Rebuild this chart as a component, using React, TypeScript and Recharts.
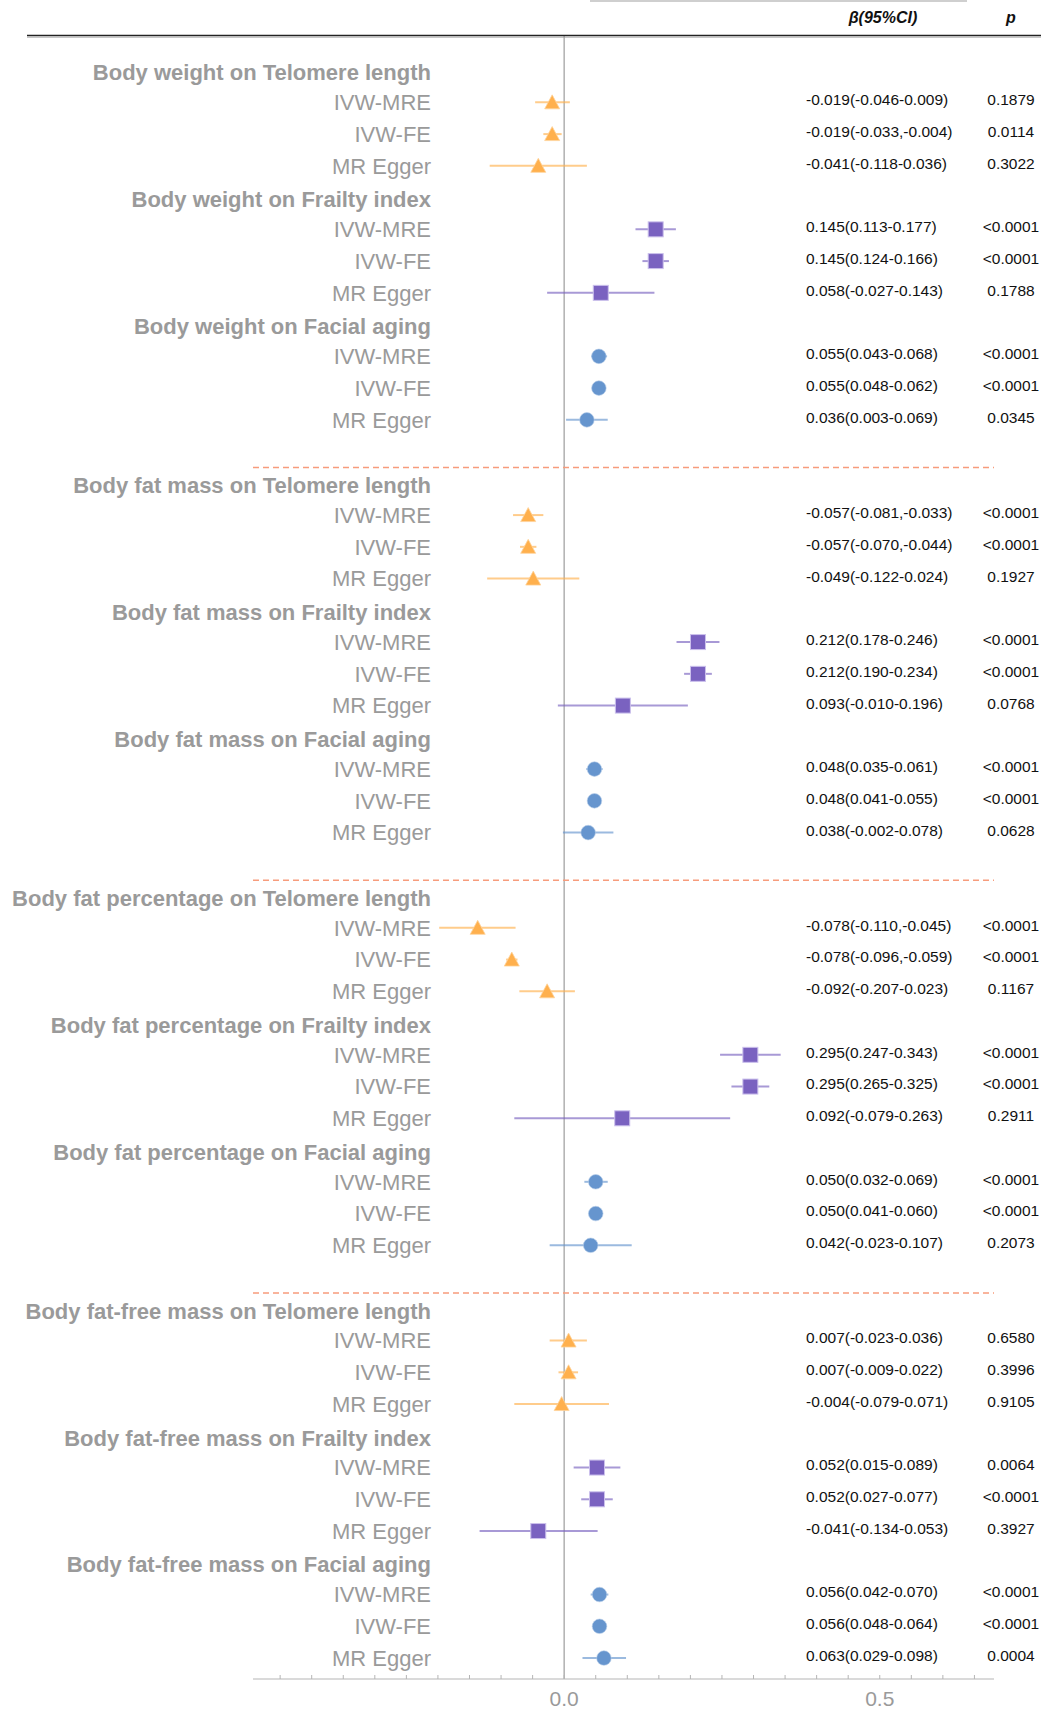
import { ComposedChart, Scatter, ErrorBar, XAxis, YAxis, ReferenceLine } from 'recharts'

const EXPOSURES = ['Body weight', 'Body fat mass', 'Body fat percentage', 'Body fat-free mass']
const OUTCOMES = ['Telomere length', 'Frailty index', 'Facial aging']
const METHODS = ['IVW-MRE', 'IVW-FE', 'MR Egger']

// plotted estimates and CI ends, in order exposure -> outcome -> method
const ESTIMATE = [
  -0.019, -0.019, -0.041, 0.145, 0.145, 0.058, 0.055, 0.055, 0.036,
  -0.057, -0.057, -0.049, 0.212, 0.212, 0.093, 0.048, 0.048, 0.038,
  -0.137, -0.083, -0.027, 0.295, 0.295, 0.092, 0.05, 0.05, 0.042,
  0.007, 0.007, -0.004, 0.052, 0.052, -0.041, 0.056, 0.056, 0.063,
]
const CI_LOW = [
  -0.046, -0.033, -0.118, 0.113, 0.124, -0.027, 0.043, 0.048, 0.003,
  -0.081, -0.07, -0.122, 0.178, 0.19, -0.01, 0.035, 0.041, -0.002,
  -0.198, -0.092, -0.071, 0.247, 0.265, -0.079, 0.032, 0.041, -0.023,
  -0.023, -0.009, -0.079, 0.015, 0.027, -0.134, 0.042, 0.048, 0.029,
]
const CI_HIGH = [
  0.009, -0.004, 0.036, 0.177, 0.166, 0.143, 0.068, 0.062, 0.069,
  -0.033, -0.044, 0.024, 0.246, 0.234, 0.196, 0.061, 0.055, 0.078,
  -0.077, -0.074, 0.017, 0.343, 0.325, 0.263, 0.069, 0.06, 0.107,
  0.036, 0.022, 0.071, 0.089, 0.077, 0.053, 0.07, 0.064, 0.098,
]
const BETA_TEXT = [
  '-0.019(-0.046-0.009)', '-0.019(-0.033,-0.004)', '-0.041(-0.118-0.036)',
  '0.145(0.113-0.177)', '0.145(0.124-0.166)', '0.058(-0.027-0.143)',
  '0.055(0.043-0.068)', '0.055(0.048-0.062)', '0.036(0.003-0.069)',
  '-0.057(-0.081,-0.033)', '-0.057(-0.070,-0.044)', '-0.049(-0.122-0.024)',
  '0.212(0.178-0.246)', '0.212(0.190-0.234)', '0.093(-0.010-0.196)',
  '0.048(0.035-0.061)', '0.048(0.041-0.055)', '0.038(-0.002-0.078)',
  '-0.078(-0.110,-0.045)', '-0.078(-0.096,-0.059)', '-0.092(-0.207-0.023)',
  '0.295(0.247-0.343)', '0.295(0.265-0.325)', '0.092(-0.079-0.263)',
  '0.050(0.032-0.069)', '0.050(0.041-0.060)', '0.042(-0.023-0.107)',
  '0.007(-0.023-0.036)', '0.007(-0.009-0.022)', '-0.004(-0.079-0.071)',
  '0.052(0.015-0.089)', '0.052(0.027-0.077)', '-0.041(-0.134-0.053)',
  '0.056(0.042-0.070)', '0.056(0.048-0.064)', '0.063(0.029-0.098)',
]
const P_TEXT = [
  '0.1879', '0.0114', '0.3022', '<0.0001', '<0.0001', '0.1788', '<0.0001', '<0.0001', '0.0345',
  '<0.0001', '<0.0001', '0.1927', '<0.0001', '<0.0001', '0.0768', '<0.0001', '<0.0001', '0.0628',
  '<0.0001', '<0.0001', '0.1167', '<0.0001', '<0.0001', '0.2911', '<0.0001', '<0.0001', '0.2073',
  '0.6580', '0.3996', '0.9105', '0.0064', '<0.0001', '0.3927', '<0.0001', '<0.0001', '0.0004',
]
const X_TICKS = [-0.45, -0.4, -0.35, -0.3, -0.25, -0.2, -0.15, -0.1, -0.05, 0, 0.05, 0.1, 0.15, 0.2, 0.25, 0.3, 0.35, 0.4, 0.45, 0.5, 0.55, 0.6, 0.65]
const X_LABELS: Record<string, string> = { '0': '0.0', '0.5': '0.5' }
const DIVIDERS = [12.5, 25.5, 38.5]

const FONT = '"Liberation Sans", Arial, Helvetica, sans-serif'
const GRAY = '#9a9a9a'

type Row = { y: number; label: string; header: boolean; beta?: string; p?: string }
type Pt = { x: number; y: number; err: [number, number] }

const rows: Row[] = []
const points: Pt[][] = [[], [], []]
let idx = 0
EXPOSURES.forEach((exp, g) => {
  OUTCOMES.forEach((out, o) => {
    const base = g * 13 + o * 4
    rows.push({ y: base, label: `${exp} on ${out}`, header: true })
    METHODS.forEach((m, k) => {
      rows.push({ y: base + 1 + k, label: m, header: false, beta: BETA_TEXT[idx], p: P_TEXT[idx] })
      points[o].push({
        x: ESTIMATE[idx],
        y: base + 1 + k,
        err: [ESTIMATE[idx] - CI_LOW[idx], CI_HIGH[idx] - ESTIMATE[idx]],
      })
      idx++
    })
  })
})
const rowByY = new Map(rows.map((r) => [r.y, r]))
const Y_TICKS = rows.map((r) => r.y)

const Triangle = (props: any) => {
  const { cx, cy } = props
  return (
    <polygon
      points={`${cx},${cy - 7.5} ${cx - 7.5},${cy + 6.5} ${cx + 7.5},${cy + 6.5}`}
      fill="#FFB04D"
      stroke="#FFD39B"
      strokeWidth={0.8}
    />
  )
}
const Square = (props: any) => {
  const { cx, cy } = props
  return <rect x={cx - 7.5} y={cy - 7.5} width={15} height={15} fill="#7A62C0" stroke="#CBC0EC" strokeWidth={1} />
}
const Dot = (props: any) => {
  const { cx, cy } = props
  return <circle cx={cx} cy={cy} r={7.3} fill="#6695CE" stroke="#B9CFEA" strokeWidth={0.6} />
}

const SERIES = [
  { shape: Triangle, ci: '#FFB04D', name: 'Telomere length' },
  { shape: Square, ci: '#7A62C0', name: 'Frailty index' },
  { shape: Dot, ci: '#6695CE', name: 'Facial aging' },
]

function RowTick(props: any) {
  const { y, payload } = props
  const row = rowByY.get(payload.value)
  if (!row) return null
  return (
    <g>
      <text x={431} y={row.header ? y + 2 : y} dy="0.35em" textAnchor="end" fontSize={22} fontWeight={row.header ? 700 : 400} fill={GRAY} fontFamily={FONT}>
        {row.label}
      </text>
      {row.beta && (
        <text x={806} y={y - 2.5} dy="0.35em" fontSize={15.5} fill="#111" fontFamily={FONT}>
          {row.beta}
        </text>
      )}
      {row.p && (
        <text x={1011} y={y - 2.5} dy="0.35em" textAnchor="middle" fontSize={15.5} fill="#111" fontFamily={FONT}>
          {row.p}
        </text>
      )}
    </g>
  )
}

function AxisTick(props: any) {
  const { x, y, payload } = props
  const label = X_LABELS[String(payload.value)]
  return (
    <g>
      <line x1={x} x2={x} y1={y} y2={y - 4} stroke="#b5b5b5" strokeWidth={1} />
      {label && (
        <text x={x} y={y + 20} dy="0.35em" textAnchor="middle" fontSize={21} fill={GRAY} fontFamily={FONT}>
          {label}
        </text>
      )}
    </g>
  )
}

export default function App() {
  return (
    <div style={{ position: 'absolute', left: 0, top: 0, width: 1043, height: 1712, background: '#fff' }}>
      <ComposedChart width={1043} height={1712} margin={{ top: 36, right: 49, bottom: 0, left: 0 }}>
        <XAxis
          type="number"
          dataKey="x"
          domain={[-0.493, 0.681]}
          allowDataOverflow
          ticks={X_TICKS}
          interval={0}
          height={33}
          tickSize={0}
          tickMargin={0}
          tickLine={false}
          axisLine={{ stroke: '#b5b5b5', strokeWidth: 1.2 }}
          tick={<AxisTick />}
        />
        <YAxis
          type="number"
          dataKey="y"
          domain={[-1.09, 50.66]}
          reversed
          allowDataOverflow
          ticks={Y_TICKS}
          interval={0}
          width={253}
          tickSize={0}
          tickMargin={0}
          tickLine={false}
          axisLine={false}
          tick={<RowTick />}
        />
        <ReferenceLine x={0} stroke="#b0b0b0" strokeWidth={1.5} />
        {DIVIDERS.map((d) => (
          <ReferenceLine key={d} y={d} stroke="#F79C7C" strokeWidth={1.5} strokeDasharray="6 4" />
        ))}
        {SERIES.map((s, o) => (
          <Scatter key={s.name} name={s.name} data={points[o]} shape={s.shape} isAnimationActive={false}>
            <ErrorBar dataKey="err" direction="x" width={0} stroke={s.ci} strokeOpacity={0.65} strokeWidth={2} isAnimationActive={false} />
          </Scatter>
        ))}
      </ComposedChart>
      <svg width={1043} height={60} style={{ position: 'absolute', left: 0, top: 0, pointerEvents: 'none' }}>
        <line x1={590} x2={967} y1={1} y2={1} stroke="#cfcfcf" strokeWidth={2} />
        <line x1={27} x2={1041} y1={35.5} y2={35.5} stroke="#222" strokeWidth={1.6} />
        <line x1={27} x2={1041} y1={37.2} y2={37.2} stroke="#999" strokeWidth={0.8} />
        <text x={883} y={17.5} dy="0.35em" textAnchor="middle" fontSize={16} fontWeight={700} fontStyle="italic" fill="#111" fontFamily={FONT}>
          β(95%CI)
        </text>
        <text x={1011} y={17.5} dy="0.35em" textAnchor="middle" fontSize={16} fontWeight={700} fontStyle="italic" fill="#111" fontFamily={FONT}>
          p
        </text>
      </svg>
    </div>
  )
}
